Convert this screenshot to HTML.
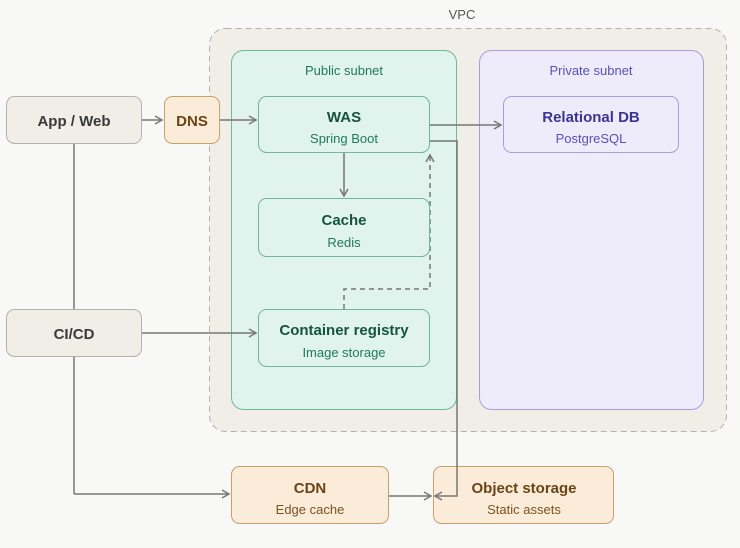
<!DOCTYPE html>
<html><head><style>
body{margin:0;background:#f8f8f7;}
svg{display:block;font-family:"Liberation Sans",sans-serif;}
</style></head><body>
<svg width="740" height="548" viewBox="0 0 740 548">
<defs>
<marker id="a" markerWidth="10" markerHeight="10" refX="8" refY="5" orient="auto" markerUnits="userSpaceOnUse">
<path d="M1,1 L8,5 L1,9" fill="none" stroke="#777" stroke-width="1.5"/></marker>
</defs>
<rect width="740" height="548" fill="#f8f8f7"/>
<rect x="209.5" y="28.5" width="517" height="403" rx="16" fill="#f1eee8" stroke="#b5b2ad" stroke-dasharray="6,4"/>
<text x="462" y="19" font-size="13" fill="#555" text-anchor="middle">VPC</text>
<rect x="231.5" y="50.5" width="225" height="359" rx="12" fill="#e0f3ec" stroke="#6fb89c"/>
<text x="344" y="75" font-size="13" fill="#1f7a5a" text-anchor="middle">Public subnet</text>
<rect x="479.5" y="50.5" width="224" height="359" rx="12" fill="#eeecfb" stroke="#a99de0"/>
<text x="591" y="75" font-size="13" fill="#5a4fb8" text-anchor="middle">Private subnet</text>

<g fill="none" stroke="#777" stroke-width="1.5">
<line x1="74" y1="144" x2="74" y2="494"/>
<polyline points="74,494 229,494" marker-end="url(#a)"/>
<line x1="142" y1="120" x2="162" y2="120" marker-end="url(#a)"/>
<line x1="220" y1="120" x2="256" y2="120" marker-end="url(#a)"/>
<line x1="430" y1="125" x2="501" y2="125" marker-end="url(#a)"/>
<line x1="344" y1="153" x2="344" y2="196" marker-end="url(#a)"/>
<line x1="142" y1="333" x2="256" y2="333" marker-end="url(#a)"/>
<polyline points="430,141 457,141 457,420"/>
<line x1="389" y1="496" x2="431" y2="496" marker-end="url(#a)"/>
<polyline points="344,309 344,289 430,289 430,155" stroke-dasharray="5,4" marker-end="url(#a)"/>
</g>

<g font-size="15" text-anchor="middle" font-weight="bold">
<rect x="6.5" y="96.5" width="135" height="47" rx="8" fill="#f1eee8" stroke="#b5b2ad"/>
<text x="74" y="126" fill="#3a3a3a">App / Web</text>
<rect x="6.5" y="309.5" width="135" height="47" rx="8" fill="#f1eee8" stroke="#b5b2ad"/>
<text x="74" y="339" fill="#3a3a3a">CI/CD</text>
<rect x="164.5" y="96.5" width="55" height="47" rx="8" fill="#fbecd9" stroke="#c9a06a"/>
<text x="192" y="126" fill="#6b4415">DNS</text>

<rect x="258.5" y="96.5" width="171" height="56" rx="8" fill="#e0f3ec" stroke="#6fb89c"/>
<text x="344" y="122" fill="#15543f">WAS</text>
<text x="344" y="143" font-size="13" font-weight="normal" fill="#1f7a5a">Spring Boot</text>
<rect x="258.5" y="198.5" width="171" height="58" rx="8" fill="#e0f3ec" stroke="#6fb89c"/>
<text x="344" y="225" fill="#15543f">Cache</text>
<text x="344" y="247" font-size="13" font-weight="normal" fill="#1f7a5a">Redis</text>
<rect x="258.5" y="309.5" width="171" height="57" rx="8" fill="#e0f3ec" stroke="#6fb89c"/>
<text x="344" y="335" fill="#15543f">Container registry</text>
<text x="344" y="357" font-size="13" font-weight="normal" fill="#1f7a5a">Image storage</text>

<rect x="503.5" y="96.5" width="175" height="56" rx="8" fill="#eeecfb" stroke="#a99de0"/>
<text x="591" y="122" fill="#3e3490">Relational DB</text>
<text x="591" y="143" font-size="13" font-weight="normal" fill="#5a4fb8">PostgreSQL</text>

<rect x="231.5" y="466.5" width="157" height="57" rx="8" fill="#fbecd9" stroke="#c9a06a"/>
<text x="310" y="493" fill="#6b4415">CDN</text>
<text x="310" y="514" font-size="13" font-weight="normal" fill="#7a5220">Edge cache</text>
<rect x="433.5" y="466.5" width="180" height="57" rx="8" fill="#fbecd9" stroke="#c9a06a"/>
<text x="524" y="493" fill="#6b4415">Object storage</text>
<text x="524" y="514" font-size="13" font-weight="normal" fill="#7a5220">Static assets</text>
</g>
<polyline points="457,420 457,496 435,496" fill="none" stroke="#777" stroke-width="1.5" marker-end="url(#a)"/>
</svg>
</body></html>
